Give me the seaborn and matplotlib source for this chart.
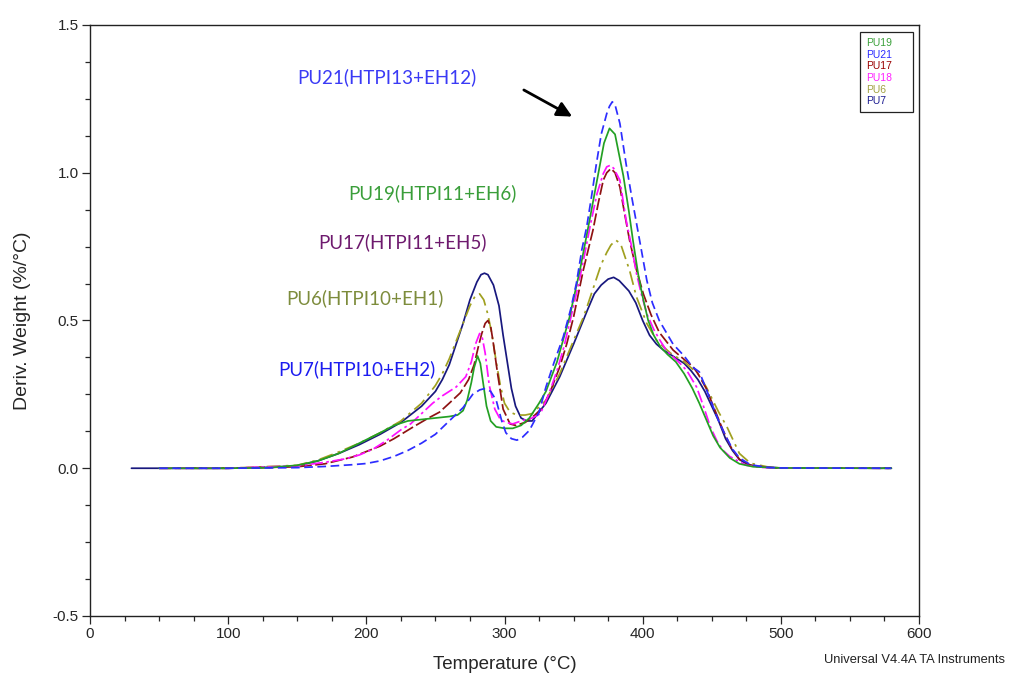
import matplotlib
matplotlib.use("Agg")
import matplotlib.pyplot as plt
from matplotlib.lines import Line2D
from matplotlib.ticker import MultipleLocator
import seaborn as sns
import pandas as pd

# DTG curves (derivative weight loss vs temperature)
pu19_t = [50, 100, 130, 150, 165, 180, 195, 210, 220, 230, 240, 250, 260, 266, 270, 273, 276, 278, 280.5, 282.5,
          284.5, 287, 290, 294, 300, 306, 312, 318, 325, 330, 338, 347, 355, 362, 368, 372, 376, 380, 386, 390,
          393, 397, 400, 404, 408, 413, 418, 424, 430, 436, 441, 446, 451, 456, 463, 470, 480, 500, 580]
pu19_w = [0, 0, 0.002, 0.01, 0.025, 0.05, 0.085, 0.12, 0.145, 0.16, 0.165, 0.17, 0.175, 0.18, 0.195, 0.23, 0.29, 0.34, 0.38, 0.355,
          0.29, 0.21, 0.16, 0.14, 0.135, 0.135, 0.145, 0.17, 0.22, 0.26, 0.36, 0.51, 0.68, 0.85, 1.0, 1.10, 1.15, 1.13, 0.99, 0.87,
          0.77, 0.65, 0.58, 0.50, 0.45, 0.41, 0.385, 0.36, 0.32, 0.27, 0.22, 0.165, 0.11, 0.07, 0.035, 0.015, 0.005, 0.001, 0]

pu21_t = [50, 100, 150, 170, 190, 200, 210, 220, 230, 240, 250, 260, 270, 277, 282, 286, 290, 294, 298, 301,
          305, 309, 313, 318, 325, 330, 336, 342.5, 348, 352, 356, 359.5, 363, 366.5, 370, 374, 376, 378, 380, 383.5,
          388, 392, 395.5, 399, 403, 407, 412, 417, 422, 430, 436, 441, 445, 450, 455, 460, 465, 470, 478, 490,
          500, 580]
pu21_w = [0, 0, 0.002, 0.006, 0.012, 0.016, 0.025, 0.04, 0.06, 0.085, 0.115, 0.16, 0.205, 0.25, 0.265, 0.27, 0.26, 0.23, 0.16, 0.12,
          0.10, 0.095, 0.105, 0.128, 0.19, 0.275, 0.36, 0.444, 0.54, 0.625, 0.74, 0.817, 0.92, 1.03, 1.13, 1.2, 1.225, 1.24, 1.23, 1.167,
          1.03, 0.92, 0.83, 0.74, 0.636, 0.56, 0.50, 0.46, 0.42, 0.38, 0.343, 0.326, 0.28, 0.22, 0.16, 0.11, 0.065, 0.035, 0.012, 0.003,
          0.001, 0]

pu17_t = [50, 100, 150, 170, 190, 210, 220, 234, 245, 253, 260, 268, 274, 278, 281, 283.5, 286, 288, 290, 292,
          295, 299, 304, 308, 315, 322, 328, 334, 340, 345, 350, 357, 364, 368, 371.5, 374, 377, 380, 383.5, 387,
          390.5, 395, 400.5, 406, 412, 417, 422, 427, 436.5, 440, 446, 452, 458, 464, 470, 478, 490, 500, 580]
pu17_w = [0, 0, 0.005, 0.015, 0.038, 0.075, 0.10, 0.14, 0.17, 0.19, 0.22, 0.255, 0.30, 0.35, 0.41, 0.455, 0.49, 0.50, 0.48, 0.42,
          0.32, 0.20, 0.15, 0.145, 0.155, 0.18, 0.207, 0.27, 0.343, 0.42, 0.512, 0.67, 0.805, 0.90, 0.975, 1.0, 1.014, 1.0, 0.952, 0.86,
          0.772, 0.68, 0.59, 0.52, 0.46, 0.43, 0.40, 0.38, 0.343, 0.32, 0.27, 0.2, 0.13, 0.07, 0.03, 0.01, 0.003, 0.001, 0]

pu18_t = [50, 100, 150, 170, 185, 195, 205, 215, 225, 232, 240, 248, 255, 265, 272, 276, 279, 282, 284, 286,
          289, 293, 297, 301, 306, 312, 320, 326, 332, 338, 343, 347, 352, 357, 362, 367, 371.5, 374, 376.5, 379,
          383.5, 388, 392, 395.5, 399, 403, 408, 412.5, 417, 422, 427, 432, 439, 444, 449, 454, 458, 463, 468, 475,
          485, 500, 580]
pu18_w = [0, 0, 0.008, 0.02, 0.032, 0.045, 0.065, 0.095, 0.13, 0.15, 0.185, 0.22, 0.245, 0.275, 0.31, 0.36, 0.42, 0.456, 0.44, 0.39,
          0.28, 0.20, 0.165, 0.155, 0.15, 0.16, 0.17, 0.185, 0.25, 0.33, 0.41, 0.49, 0.59, 0.70, 0.82, 0.93, 0.997, 1.02, 1.025, 1.015,
          0.975, 0.84, 0.75, 0.66, 0.59, 0.523, 0.47, 0.433, 0.40, 0.377, 0.355, 0.33, 0.275, 0.21, 0.14, 0.09, 0.061, 0.04, 0.027, 0.01,
          0.003, 0.001, 0]

pu6_t = [50, 100, 150, 165, 180, 195, 210, 225, 240, 250, 255, 260, 265, 270, 275, 279, 282, 285, 288, 291,
         294, 297, 300, 304, 309, 315, 320, 330, 340, 348, 357, 360, 365, 370, 374, 377, 380.5, 384, 390.5, 395.5,
         403, 410, 420, 430, 440, 446, 455, 461, 466, 470, 478, 490, 500, 580]
pu6_w = [0, 0, 0.01, 0.028, 0.055, 0.085, 0.12, 0.16, 0.22, 0.28, 0.32, 0.37, 0.43, 0.49, 0.55, 0.585, 0.59, 0.57, 0.52, 0.45,
         0.36, 0.28, 0.22, 0.19, 0.18, 0.18, 0.185, 0.23, 0.32, 0.41, 0.51, 0.55, 0.62, 0.69, 0.73, 0.755, 0.772, 0.76, 0.67, 0.58,
         0.49, 0.433, 0.39, 0.36, 0.32, 0.275, 0.19, 0.14, 0.09, 0.05, 0.017, 0.005, 0.001, 0]

pu7_t = [30, 100, 130, 150, 165, 180, 195, 210, 225, 240, 250, 255, 260, 265, 270, 275, 280, 283, 285.5, 288,
         292, 296, 299, 302, 305, 308, 312, 316, 320, 330, 340, 350, 360, 365, 370, 375, 379, 383, 390, 395,
         400, 405, 410, 415, 420, 425, 430, 435, 440, 445, 450, 455, 460, 465, 470, 475, 480, 490, 500, 580]
pu7_w = [0, 0, 0.003, 0.008, 0.025, 0.05, 0.08, 0.115, 0.155, 0.21, 0.26, 0.30, 0.35, 0.42, 0.49, 0.57, 0.63, 0.655, 0.66, 0.655,
         0.62, 0.55, 0.45, 0.36, 0.27, 0.21, 0.17, 0.16, 0.16, 0.22, 0.31, 0.42, 0.535, 0.59, 0.62, 0.64, 0.646, 0.635, 0.60, 0.56,
         0.50, 0.45, 0.42, 0.40, 0.385, 0.37, 0.355, 0.33, 0.30, 0.26, 0.21, 0.16, 0.10, 0.06, 0.03, 0.015, 0.008, 0.003, 0.001, 0]

samples = ["PU19", "PU21", "PU17", "PU18", "PU6", "PU7"]
series = {
    "PU19": (pu19_t, pu19_w),
    "PU21": (pu21_t, pu21_w),
    "PU17": (pu17_t, pu17_w),
    "PU18": (pu18_t, pu18_w),
    "PU6": (pu6_t, pu6_w),
    "PU7": (pu7_t, pu7_w),
}
colors = {
    "PU19": "#23a023",
    "PU21": "#2d2dff",
    "PU17": "#8e1212",
    "PU18": "#ff10ff",
    "PU6": "#a0a020",
    "PU7": "#18187e",
}
legend_colors = {
    "PU19": "#3aa03a",
    "PU21": "#2a2aff",
    "PU17": "#9a0000",
    "PU18": "#ff20ff",
    "PU6": "#a0a040",
    "PU7": "#1a1a90",
}
styles = {
    "PU19": "-",
    "PU21": (0, (5, 2.6)),
    "PU17": (0, (7, 2)),
    "PU18": (0, (7, 2, 1.5, 2)),
    "PU6": (0, (8, 3, 1.5, 3)),
    "PU7": "-",
}

annotations = [
    ("PU21(HTPI13+EH12)", 150, 1.323, "#3a3af5"),
    ("PU19(HTPI11+EH6)", 187, 0.931, "#3a9e3a"),
    ("PU17(HTPI11+EH5)", 165, 0.765, "#6e1a6e"),
    ("PU6(HTPI10+EH1)", 142, 0.575, "#7d8c3c"),
    ("PU7(HTPI10+EH2)", 136, 0.335, "#1c1cf0"),
]

sns.set_style("ticks")
plt.rcParams["font.family"] = ["Liberation Sans", "DejaVu Sans"]

fig = plt.figure(figsize=(10.09, 6.73), dpi=100)
ax = fig.add_axes([0.0892, 0.0847, 0.8216, 0.8782])

draw_order = ["PU7", "PU6", "PU17", "PU18", "PU19", "PU21"]
for name in draw_order:
    t, w = series[name]
    df = pd.DataFrame({"Temperature": t, "Weight": w})
    sns.lineplot(data=df, x="Temperature", y="Weight", ax=ax, color=colors[name],
                 linestyle=styles[name], linewidth=1.25, sort=False, estimator=None)

ax.set_xlim(0, 600)
ax.set_ylim(-0.5, 1.5)
ax.xaxis.set_major_locator(MultipleLocator(100))
ax.xaxis.set_minor_locator(MultipleLocator(25))
ax.yaxis.set_major_locator(MultipleLocator(0.5))
ax.yaxis.set_minor_locator(MultipleLocator(0.125))
ax.set_yticklabels([f"{v:.1f}" for v in ax.get_yticks()])
ax.tick_params(which="major", direction="out", length=6, width=0.9, labelsize=11, pad=2)
ax.tick_params(which="minor", direction="out", length=3.5, width=0.9)
for s in ax.spines.values():
    s.set_visible(True)
    s.set_color("#222222")
    s.set_linewidth(1.0)

ax.set_xlabel("Temperature (°C)", fontsize=13.5, labelpad=11)
ax.set_ylabel("Deriv. Weight (%/°C)", fontsize=14, labelpad=16)

for text, x, y, c in annotations:
    ax.text(x, y, text, color=c, fontsize=13.5, family=["Lato", "DejaVu Sans"],
            ha="left", va="center")

ax.annotate("", xy=(349, 1.19), xytext=(314, 1.28),
            arrowprops=dict(arrowstyle="-|>,head_length=0.9,head_width=0.45",
                            color="black", lw=2.0, shrinkA=0, shrinkB=0))

handles = [Line2D([], [], linestyle="none") for _ in samples]
leg = ax.legend(handles, samples, loc="upper left",
                bbox_to_anchor=(0.9288, 0.0, 0.0640, 0.988), mode="expand",
                borderaxespad=0, fontsize=7.5, handlelength=0, handletextpad=0,
                labelspacing=0.15, borderpad=0.6,
                fancybox=False, framealpha=1, edgecolor="#222222")
leg.get_frame().set_linewidth(0.9)
for txt, name in zip(leg.get_texts(), samples):
    txt.set_color(legend_colors[name])

fig.text(0.996, 0.019, "Universal V4.4A TA Instruments", ha="right", va="center",
         fontsize=9.3, color="#222222")

fig.savefig("out.png", dpi=100, facecolor="white")
